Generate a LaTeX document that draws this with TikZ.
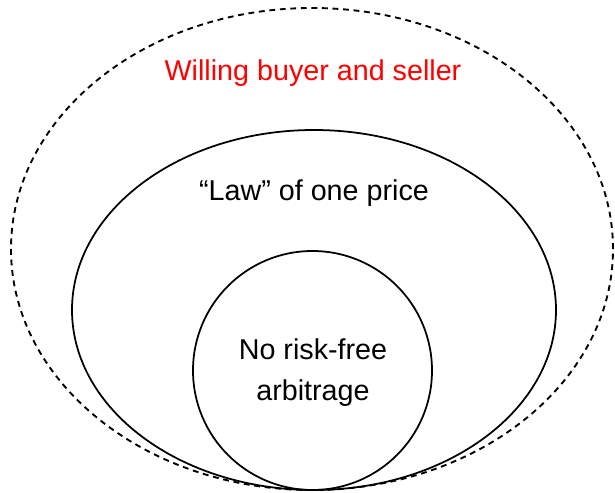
\documentclass[tikz,border=0pt]{standalone}
\usepackage{fontspec}
\setmainfont{Liberation Sans}
\begin{document}
\begin{tikzpicture}[x=0.03cm,y=0.03cm]
			\useasboundingbox (0,0) rectangle (615,492);
			\coordinate (O) at (312,243);
			\coordinate (L) at (314,182);
			\coordinate (N) at (312.5,121.5);
			\draw [line width=1.6pt, dash pattern=on 5pt off 4pt] (O) ellipse [x radius=301, y radius=241];
			\draw [line width=1.5pt] (L) ellipse [x radius=242, y radius=180];
			\draw [line width=1.5pt] (N) circle (119.5);
			\node [red, font=\fontsize{24.5}{35}\selectfont] (willing) at (313,419) {Willing buyer and seller};
			\node [font=\fontsize{24.5}{35}\selectfont] (law) at (314,299) {“Law” of one price};
			\node [align=center, font=\fontsize{24.5}{35}\selectfont] (noarb) at (313,119) {No risk-free\\arbitrage};
		\end{tikzpicture}
\end{document}
